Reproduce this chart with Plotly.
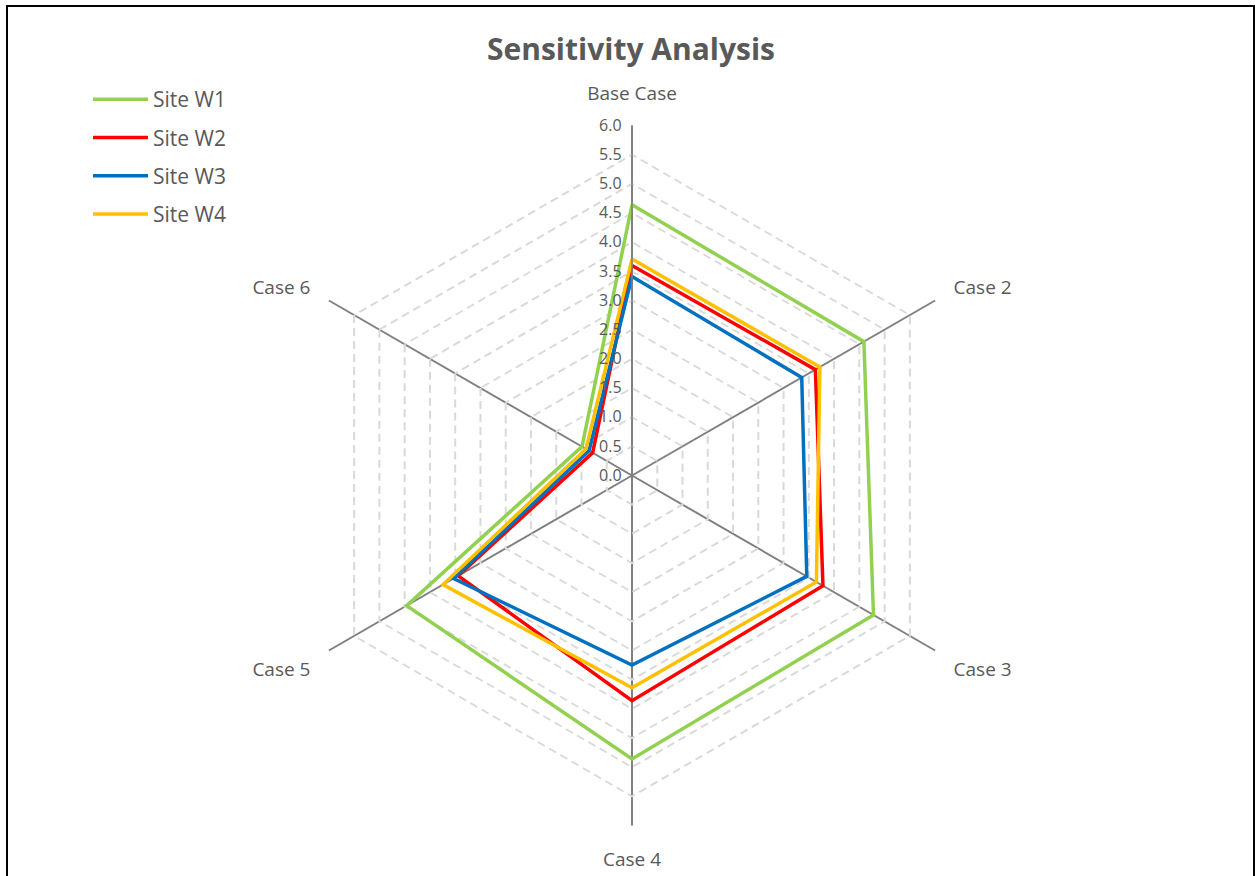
import plotly.graph_objects as go

categories = ["Base Case", "Case 2", "Case 3", "Case 4", "Case 5", "Case 6"]
series_names = ["Site W1", "Site W2", "Site W3", "Site W4"]
w1 = [4.64, 4.59, 4.78, 4.86, 4.46, 0.99]
w2 = [3.60, 3.63, 3.78, 3.86, 3.44, 0.78]
w3 = [3.41, 3.36, 3.46, 3.25, 3.53, 0.85]
w4 = [3.71, 3.72, 3.65, 3.64, 3.74, 0.91]
colors = ["#92D050", "#FF0000", "#0070C0", "#FFC000"]
radial_ticks = [i * 0.5 for i in range(13)]

W, H = 1255, 876
cx, cy, R = 632, 475.5, 350

fig = go.Figure()
for name, vals, col in zip(series_names, [w1, w2, w3, w4], colors):
    fig.add_trace(go.Scatterpolar(
        r=vals + vals[:1], theta=categories + categories[:1],
        mode="lines", name=name, legendgroup=name,
        line=dict(color=col, width=3.5),
    ))

fig.update_layout(
    width=W, height=H,
    margin=dict(l=0, r=0, t=0, b=0),
    paper_bgcolor="white",
    font=dict(family="Open Sans, Noto Sans, sans-serif", color="#595959", size=16),
    title=dict(text="<b>Sensitivity Analysis</b>", x=631 / W, xanchor="center",
               y=1 - 49 / H, yanchor="middle",
               font=dict(size=30, color="#595959")),
    legend=dict(x=88 / W, xanchor="left", y=1 - 79 / H, yanchor="top",
                font=dict(size=21, color="#595959"), tracegroupgap=8,
                itemwidth=55, bgcolor="rgba(0,0,0,0)"),
    polar=dict(
        domain=dict(x=[(cx - R) / W, (cx + R) / W],
                    y=[(H - cy - R) / H, (H - cy + R) / H]),
        gridshape="linear",
        bgcolor="white",
        angularaxis=dict(rotation=90, direction="clockwise",
                         showline=False, gridcolor="#808080", gridwidth=1.6,
                         ticks="outside", ticklen=17, tickcolor="rgba(0,0,0,0)",
                         tickfont=dict(size=19, color="#595959")),
        radialaxis=dict(range=[0, 6], tickvals=radial_ticks, tickformat=".1f",
                        angle=90, tickangle=90, side="counterclockwise",
                        showline=True, linecolor="#808080", linewidth=1.6,
                        gridcolor="#D9D9D9", griddash="8px,5px", gridwidth=1.5,
                        ticks="outside", ticklen=4, tickcolor="rgba(0,0,0,0)",
                        tickfont=dict(size=16, color="#595959")),
    ),
    shapes=[dict(type="rect", xref="paper", yref="paper",
                 x0=7 / W, x1=1254 / W, y0=-0.05, y1=1 - 6 / H,
                 line=dict(color="black", width=2))],
)

fig.write_html("out.html", config={"displayModeBar": False},
               post_script="document.body.style.margin='0';document.body.style.overflow='hidden';")
